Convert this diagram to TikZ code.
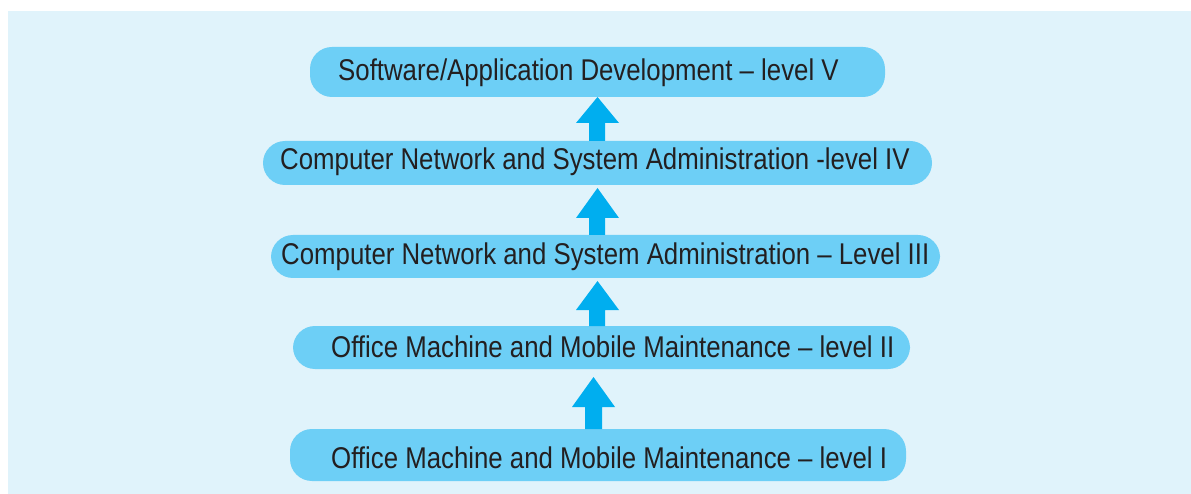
\documentclass[tikz,border=0pt]{standalone}
\usepackage{fontspec}
\setmainfont{Liberation Sans}[FakeStretch=0.86]
\definecolor{bgblue}{HTML}{E0F3FB}
\definecolor{boxblue}{HTML}{6DCFF6}
\definecolor{arrowblue}{HTML}{00AEEF}
\definecolor{textdark}{HTML}{231F20}
\tikzset{
  level/.style={fill=boxblue, rounded corners=22pt},
  label/.style={text=textdark, font=\fontsize{30}{34}\selectfont, anchor=west, inner sep=0pt},
  uparrow/.style={fill=arrowblue}
}
\begin{document}
\begin{tikzpicture}[x=1pt,y=-1pt]
\useasboundingbox (0,0) rectangle (1191,494);
\fill[bgblue] (8,11) rectangle (1191,494);
% boxes
\path[level] (310,47) rectangle (885,97);
\path[level] (263,141) rectangle (932,185);
\path[level] (271,235) rectangle (940,278);
\path[level] (293,326) rectangle (910,369);
\path[level] (290,429) rectangle (906,481);
\node[label] (t5) at (338,73) {Software/Application Development -- level V};
\node[label] (t4) at (280,162) {Computer Network and System Administration -level IV};
\node[label] (t3) at (281,257) {Computer Network and System Administration -- Level III};
\node[label] (t2) at (331,347) {Office Machine and Mobile Maintenance -- level II};
\node[label] (t1) at (331,458) {Office Machine and Mobile Maintenance -- level I};
% arrows
\fill[uparrow] (589,141) -- (589,123) -- (576,123) -- (597.5,97) -- (619,123) -- (605,123) -- (605,141) -- cycle;
\fill[uparrow] (589,235) -- (589,218) -- (576,218) -- (597.5,188) -- (619,218) -- (605,218) -- (605,235) -- cycle;
\fill[uparrow] (589,326) -- (589,310) -- (576,310) -- (597.5,281) -- (619,310) -- (605,310) -- (605,326) -- cycle;
\fill[uparrow] (585,429) -- (585,407) -- (572,407) -- (593.5,377) -- (615,407) -- (602,407) -- (602,429) -- cycle;
\end{tikzpicture}
\end{document}
